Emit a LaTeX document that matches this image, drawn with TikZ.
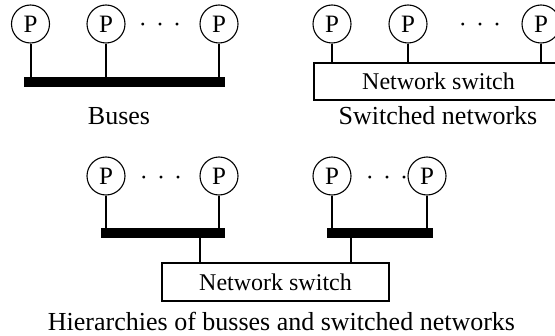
\documentclass[tikz,border=0pt]{standalone}
\usepackage{fontspec}
\setmainfont{Liberation Serif}
\begin{document}
\begin{tikzpicture}[x=0.5pt,y=-0.5pt,
  proc/.style={circle,draw,line width=0.55pt,minimum size=19pt,inner sep=0pt,
    font=\fontsize{12.5}{14}\selectfont},
  bus/.style={rectangle,fill=black,inner sep=0pt,minimum height=5pt},
  switchbox/.style={rectangle,draw,line width=1pt,inner sep=0pt,
    font=\fontsize{12}{14}\selectfont},
  wire/.style={line width=1pt},
  ellip/.style={anchor=base,inner sep=0pt,font=\fontsize{12}{14}\selectfont},
  caption/.style={anchor=base,inner sep=0pt,font=\fontsize{13}{15}\selectfont}]
\clip (0,0) rectangle (555,336);

% ---- bus ----
\node[proc] (a1) at (30.5,24) {P};
\node[proc] (a2) at (106,24) {P};
\node[proc] (a3) at (219,24) {P};
\node[ellip] (ad) at (160,33) {·\hspace{0.38em}·\hspace{0.38em}·};
\node[bus,minimum width=100.5pt] (busA) at (124.5,82) {};
\foreach \p in {a1,a2,a3}
  \draw[wire] (\p.south) -- (\p.south |- busA.north);
\node[caption] (capA) at (119,125) {Buses};

% ---- switched network ----
\node[proc] (b1) at (332,24) {P};
\node[proc] (b2) at (408,24) {P};
\node[proc] (b3) at (541,24) {P};
\node[ellip] (bd) at (480,33) {·\hspace{0.38em}·\hspace{0.38em}·};
\node[switchbox,minimum width=124.5pt,minimum height=18.5pt] (swB) at (438.5,81.5) {Network switch};
\foreach \p in {b1,b2,b3}
  \draw[wire] (\p.south) -- (\p.south |- swB.north);
\node[caption] (capB) at (438,125) {Switched networks};

% ---- hierarchy ----
\node[proc] (c1) at (106,176) {P};
\node[proc] (c2) at (219,176) {P};
\node[proc] (c3) at (332,176) {P};
\node[proc] (c4) at (427,176) {P};
\node[ellip] (cdl) at (161,185) {·\hspace{0.38em}·\hspace{0.38em}·};
\node[ellip] (cdr) at (387,185) {·\hspace{0.38em}·\hspace{0.38em}·};
\node[bus,minimum width=62pt] (busL) at (163,233) {};
\node[bus,minimum width=53pt] (busR) at (380,233) {};
\foreach \p in {c1,c2}
  \draw[wire] (\p.south) -- (\p.south |- busL.north);
\foreach \p in {c3,c4}
  \draw[wire] (\p.south) -- (\p.south |- busR.north);
\node[switchbox,minimum width=113.5pt,minimum height=19pt] (swC) at (275.5,282) {Network switch};
\coordinate (tapL) at (200,0);
\coordinate (tapR) at (351,0);
\draw[wire] (busL.south -| tapL) -- (swC.north -| tapL);
\draw[wire] (busR.south -| tapR) -- (swC.north -| tapR);
\node[caption] (capC) at (281.5,330) {Hierarchies of busses and switched networks};
\end{tikzpicture}
\end{document}
